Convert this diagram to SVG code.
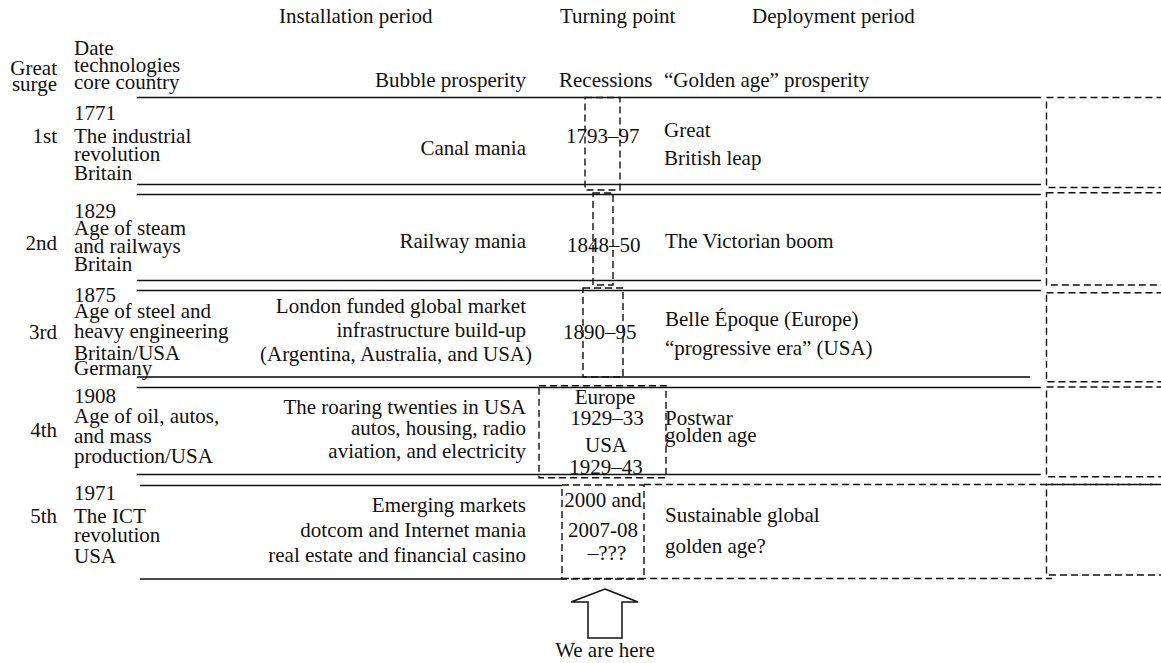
<svg xmlns="http://www.w3.org/2000/svg" width="1161" height="663" viewBox="0 0 1161 663">
<style>
text{font-family:"Liberation Serif","Times New Roman",serif;font-size:21px;fill:#111}
.r{text-anchor:end}
.m{text-anchor:middle}
.sl{stroke:#111;stroke-width:1.5;fill:none}
.dl{stroke:#111;stroke-width:1.4;fill:none;stroke-dasharray:7,4}
</style>
<rect width="1161" height="663" fill="#fff"/>
<g id="header">
<text x="279" y="23">Installation period</text>
<text x="560" y="23">Turning point</text>
<text x="752" y="23">Deployment period</text>
<text class="r" x="57" y="75">Great</text>
<text class="r" x="57" y="91">surge</text>
<text x="74" y="55">Date</text>
<text x="74" y="72">technologies</text>
<text x="74" y="89">core country</text>
<text class="r" x="526" y="87">Bubble prosperity</text>
<text x="559" y="87">Recessions</text>
<text x="664" y="87">“Golden age” prosperity</text>
</g>
<g id="connectors">
<line class="sl" x1="137" y1="97.5" x2="1041" y2="97.5"/>
<line class="sl" x1="137" y1="184.5" x2="1041" y2="184.5"/>
<line class="sl" x1="137" y1="194.5" x2="1041" y2="194.5"/>
<line class="sl" x1="137" y1="280.5" x2="1041" y2="280.5"/>
<line class="sl" x1="137" y1="290.5" x2="1041" y2="290.5"/>
<line x1="137" y1="377" x2="1030" y2="377" stroke="#444" stroke-width="2"/>
<line class="sl" x1="137" y1="387.5" x2="1041" y2="387.5"/>
<line class="sl" x1="137" y1="474.5" x2="1041" y2="474.5"/>
<line class="sl" x1="140" y1="485.5" x2="562" y2="485.5"/>
<line class="dl" x1="644" y1="484.5" x2="1161" y2="484.5"/>
<line class="sl" x1="140" y1="579" x2="562" y2="579"/>
<line class="dl" x1="562" y1="578.5" x2="1052" y2="578.5"/>
<rect class="dl" x="1046.5" y="97.5" width="130" height="90"/>
<rect class="dl" x="1046.5" y="192.7" width="130" height="92.3"/>
<rect class="dl" x="1046.5" y="292.7" width="130" height="89"/>
<rect class="dl" x="1046.5" y="387" width="130" height="89.7"/>
<rect class="dl" x="1046.5" y="484.5" width="130" height="90.5"/>
<polygon points="605,589 638,602 622,602 622,638 588,638 588,602 571,602" fill="#fff" stroke="#111" stroke-width="1.5"/>
</g>
<g id="row1">
<text x="74" y="120">1771</text>
<text class="r" x="57" y="143">1st</text>
<text x="74" y="143">The industrial</text>
<text x="74" y="161">revolution</text>
<text x="74" y="180">Britain</text>
<text class="r" x="526" y="155">Canal mania</text>
<text x="566" y="143">1793–97</text>
<rect class="dl" x="585" y="97.5" width="35" height="92.5"/>
<text x="664" y="137">Great</text>
<text x="664" y="165">British leap</text>
</g>
<g id="row2">
<text x="74" y="218">1829</text>
<text class="r" x="57" y="250">2nd</text>
<text x="74" y="235">Age of steam</text>
<text x="74" y="253">and railways</text>
<text x="74" y="271">Britain</text>
<text class="r" x="526" y="248">Railway mania</text>
<text x="567" y="252">1848–50</text>
<rect class="dl" x="593" y="193" width="20" height="92"/>
<text x="665" y="248">The Victorian boom</text>
</g>
<g id="row3">
<text x="74" y="302">1875</text>
<text class="r" x="57" y="339">3rd</text>
<text x="74" y="318">Age of steel and</text>
<text x="74" y="338">heavy engineering</text>
<text x="74" y="360">Britain/USA</text>
<text x="74" y="375">Germany</text>
<text class="r" x="526" y="313">London funded global market</text>
<text class="r" x="526" y="337">infrastructure build-up</text>
<text class="r" x="532" y="361">(Argentina, Australia, and USA)</text>
<text x="563" y="339">1890–95</text>
<rect class="dl" x="583" y="288" width="40" height="89"/>
<text x="665" y="326">Belle Époque (Europe)</text>
<text x="665" y="355">“progressive era” (USA)</text>
</g>
<g id="row4">
<text x="74" y="403">1908</text>
<text class="r" x="57" y="437">4th</text>
<text x="74" y="423">Age of oil, autos,</text>
<text x="74" y="443">and mass</text>
<text x="74" y="463">production/USA</text>
<text class="r" x="526" y="414">The roaring twenties in USA</text>
<text class="r" x="526" y="435">autos, housing, radio</text>
<text class="r" x="526" y="458">aviation, and electricity</text>
<rect class="dl" x="539" y="385.7" width="127" height="92"/>
<text class="m" x="605" y="404">Europe</text>
<text class="m" x="607" y="425">1929–33</text>
<text class="m" x="606" y="452">USA</text>
<text class="m" x="606" y="474">1929–43</text>
<text x="665" y="425">Postwar</text>
<text x="665" y="442">golden age</text>
</g>
<g id="row5">
<text x="74" y="500">1971</text>
<text class="r" x="57" y="523">5th</text>
<text x="74" y="523">The ICT</text>
<text x="74" y="542">revolution</text>
<text x="74" y="563">USA</text>
<text class="r" x="526" y="512">Emerging markets</text>
<text class="r" x="526" y="537">dotcom and Internet mania</text>
<text class="r" x="526" y="562">real estate and financial casino</text>
<rect class="dl" x="562" y="485" width="82" height="94"/>
<text class="m" x="603" y="507">2000 and</text>
<text class="m" x="603" y="537">2007-08</text>
<text class="m" x="607" y="560">–???</text>
<text x="665" y="522">Sustainable global</text>
<text x="665" y="553">golden age?</text>
</g>
<g id="marker-here">
<text class="m" x="605" y="657">We are here</text>
</g>
</svg>
